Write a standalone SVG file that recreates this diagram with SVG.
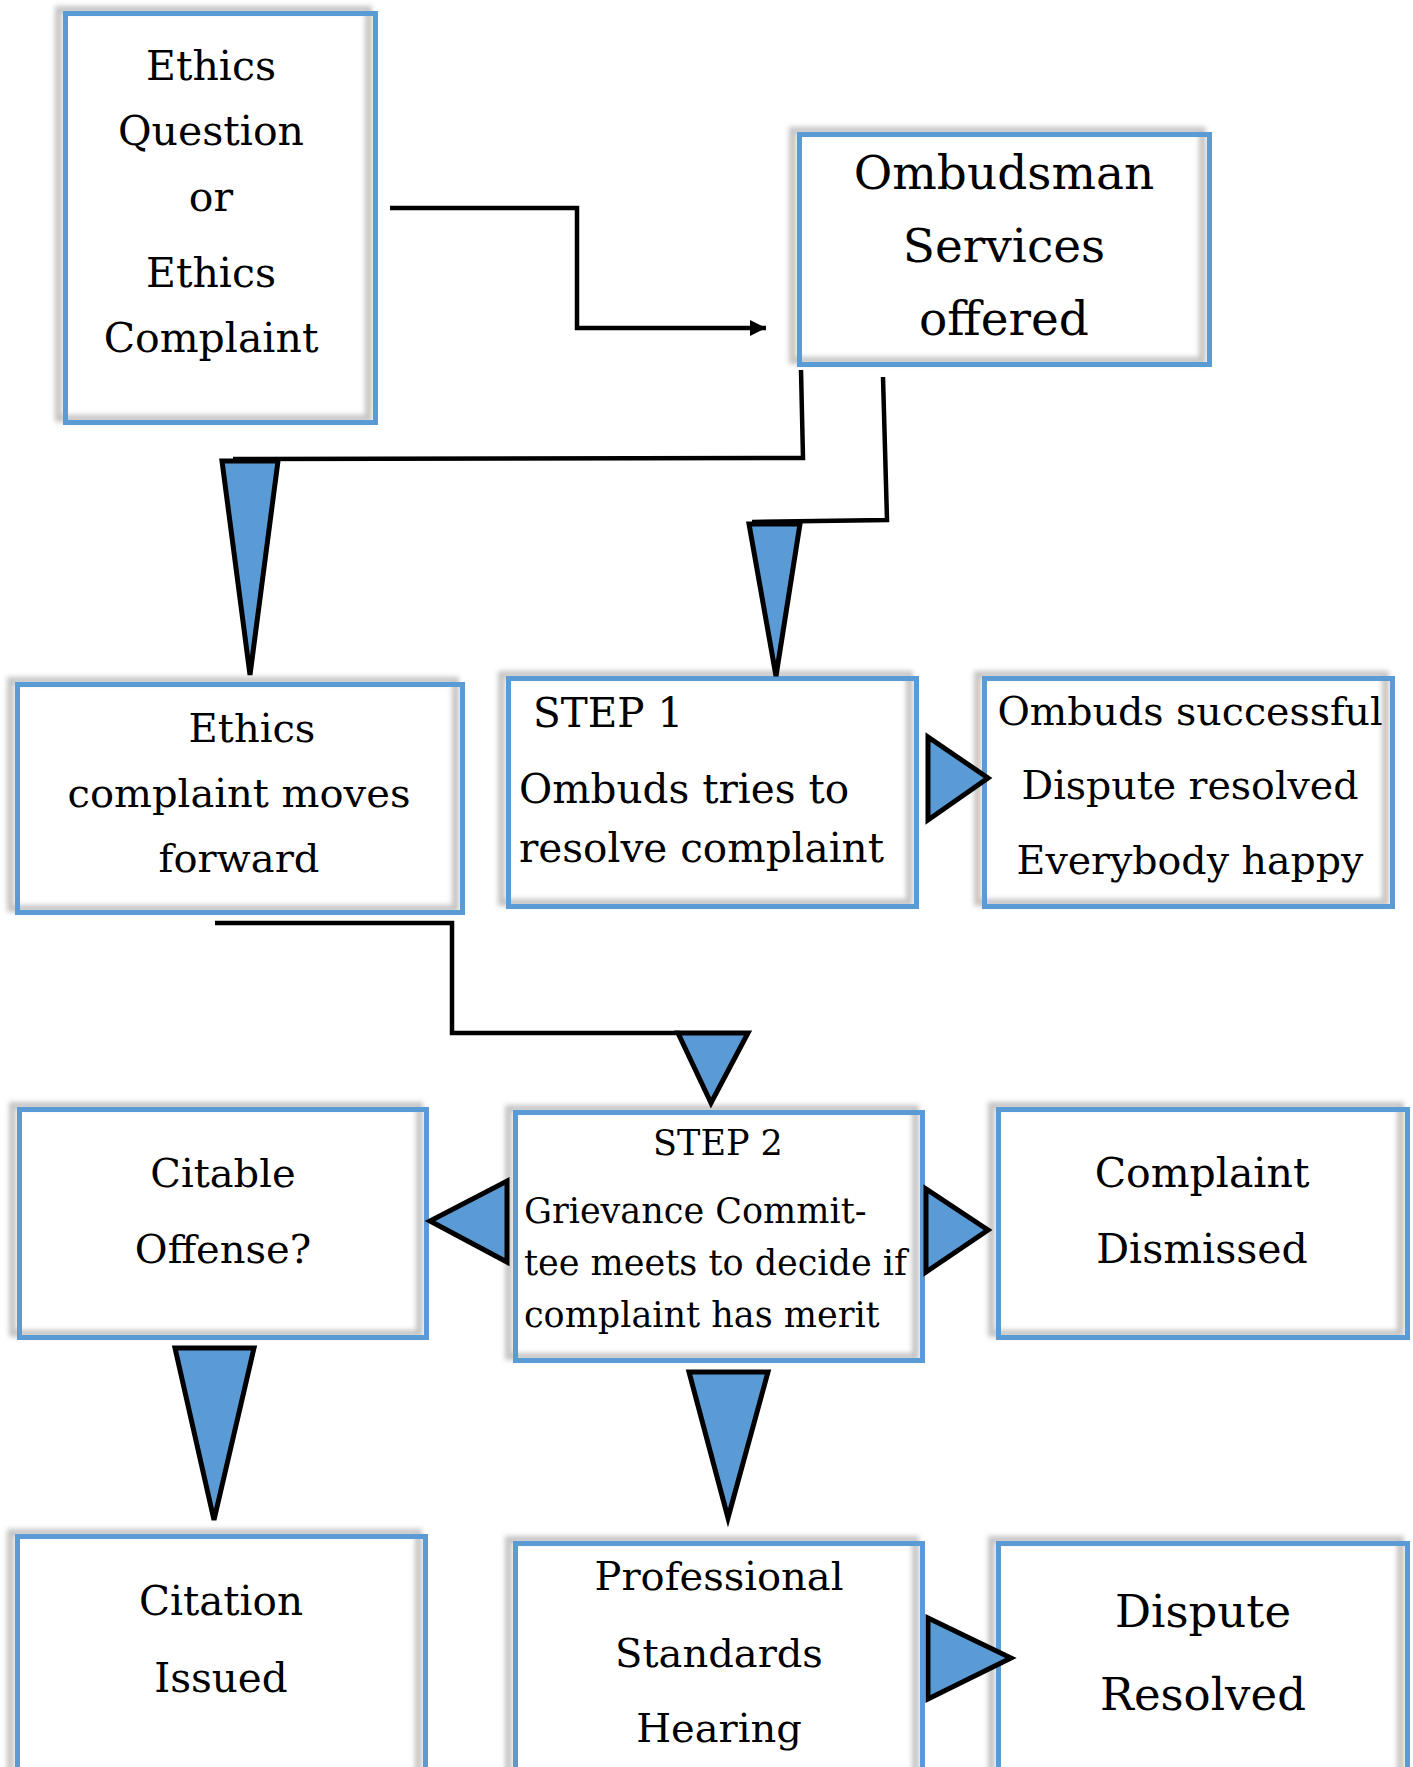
<svg xmlns="http://www.w3.org/2000/svg" width="1413" height="1767" viewBox="0 0 1413 1767">
<defs>
<filter id="blur" x="-10%" y="-10%" width="120%" height="120%"><feGaussianBlur stdDeviation="2.5"/></filter>
<marker id="ah" markerWidth="18" markerHeight="18" refX="16" refY="8" orient="auto" markerUnits="userSpaceOnUse"><path d="M0,0 L16,8 L0,16 Z" fill="#000"/></marker>
</defs>
<style>
.sh{fill:none;stroke:#c4c4c4;stroke-width:7;filter:url(#blur)}
.box{fill:none;stroke:#5B9BD5;stroke-width:5}
.t{font-family:"DejaVu Serif","Liberation Serif",serif;fill:#000}
.c{text-anchor:middle}
.ln{fill:none;stroke:#000;stroke-width:4.5}
.tri{fill:#5B9BD5;stroke:#000;stroke-width:5}
</style>
<rect width="1413" height="1767" fill="#fff"/>

<g id="n-ethics-question">
<rect class="sh" x="58.5" y="9.5" width="310" height="409"/>
<rect class="box" x="65.5" y="13.5" width="310" height="409"/>
<text class="t c" font-size="41"><tspan x="211" y="80">Ethics</tspan><tspan x="211" y="145">Question</tspan><tspan x="211" y="211">or</tspan><tspan x="211" y="287">Ethics</tspan><tspan x="211" y="352">Complaint</tspan></text>
</g>

<g id="n-ombudsman">
<rect class="sh" x="792.5" y="130.5" width="410" height="230"/>
<rect class="box" x="799.5" y="134.5" width="410" height="230"/>
<text class="t c" font-size="47"><tspan x="1004" y="189">Ombudsman</tspan><tspan x="1004" y="262">Services</tspan><tspan x="1004" y="335">offered</tspan></text>
</g>

<g id="n-ethics-moves">
<rect class="sh" x="10.5" y="680.5" width="445" height="228"/>
<rect class="box" x="17.5" y="684.5" width="445" height="228"/>
<text class="t c" font-size="40"><tspan x="252" y="742">Ethics</tspan><tspan x="239" y="807">complaint moves</tspan><tspan x="239" y="872">forward</tspan></text>
</g>

<g id="n-step1">
<rect class="sh" x="501.5" y="674.5" width="408" height="228"/>
<rect class="box" x="508.5" y="678.5" width="408" height="228"/>
<text class="t" font-size="40.5"><tspan x="533" y="727">STEP 1</tspan><tspan x="519" y="803">Ombuds tries to</tspan><tspan x="519" y="862">resolve complaint</tspan></text>
</g>

<g id="n-ombuds-successful">
<rect class="sh" x="977.5" y="674.5" width="408" height="228"/>
<rect class="box" x="984.5" y="678.5" width="408" height="228"/>
<text class="t c" font-size="39.5"><tspan x="1190" y="725">Ombuds successful</tspan><tspan x="1190" y="799">Dispute resolved</tspan><tspan x="1190" y="874">Everybody happy</tspan></text>
</g>

<g id="n-citable">
<rect class="sh" x="12.5" y="1105.5" width="407" height="228"/>
<rect class="box" x="19.5" y="1109.5" width="407" height="228"/>
<text class="t c" font-size="40"><tspan x="223" y="1187">Citable</tspan><tspan x="223" y="1263">Offense?</tspan></text>
</g>

<g id="n-step2">
<rect class="sh" x="508.5" y="1108.5" width="407" height="248"/>
<rect class="box" x="515.5" y="1112.5" width="407" height="248"/>
<text class="t" font-size="35"><tspan x="718" y="1155" text-anchor="middle">STEP 2</tspan><tspan x="524" y="1223">Grievance Commit-</tspan><tspan x="524" y="1275">tee meets to decide if</tspan><tspan x="524" y="1327">complaint has merit</tspan></text>
</g>

<g id="n-dismissed">
<rect class="sh" x="991.5" y="1105.5" width="409" height="228"/>
<rect class="box" x="998.5" y="1109.5" width="409" height="228"/>
<text class="t c" font-size="41"><tspan x="1202" y="1187">Complaint</tspan><tspan x="1202" y="1263">Dismissed</tspan></text>
</g>

<g id="n-citation">
<rect class="sh" x="10.5" y="1532.5" width="408" height="260"/>
<rect class="box" x="17.5" y="1536.5" width="408" height="260"/>
<text class="t c" font-size="40.5"><tspan x="221" y="1615">Citation</tspan><tspan x="221" y="1692">Issued</tspan></text>
</g>

<g id="n-hearing">
<rect class="sh" x="508.5" y="1539.5" width="407" height="260"/>
<rect class="box" x="515.5" y="1543.5" width="407" height="260"/>
<text class="t c" font-size="40"><tspan x="719" y="1590">Professional</tspan><tspan x="719" y="1667">Standards</tspan><tspan x="719" y="1742">Hearing</tspan></text>
</g>

<g id="n-dispute-resolved">
<rect class="sh" x="991.5" y="1539.5" width="409" height="260"/>
<rect class="box" x="998.5" y="1543.5" width="409" height="260"/>
<text class="t c" font-size="45"><tspan x="1203" y="1627">Dispute</tspan><tspan x="1203" y="1710">Resolved</tspan></text>
</g>

<g id="connectors">
<polyline class="ln" points="390,208 577,208 577,328 766,328" marker-end="url(#ah)"/>
<polyline class="ln" points="801,370 803,458 233,459"/>
<polyline class="ln" points="883,377 887,520 752,522"/>
<polyline class="ln" points="215,923 452,923 452,1033 680,1033"/>
<polygon class="tri" points="222,461 278,461 250,675"/>
<polygon class="tri" points="749,524 800,524 776,676"/>
<polygon class="tri" points="678,1033 748,1033 711,1103"/>
<polygon class="tri" points="928,737 928,820 988,778"/>
<polygon class="tri" points="507,1181 507,1262 430,1221"/>
<polygon class="tri" points="926,1189 926,1272 988,1230"/>
<polygon class="tri" points="175,1348 254,1348 214,1520"/>
<polygon class="tri" points="689,1372 768,1372 728,1518"/>
<polygon class="tri" points="928,1618 928,1699 1011,1658"/>
</g>
</svg>
